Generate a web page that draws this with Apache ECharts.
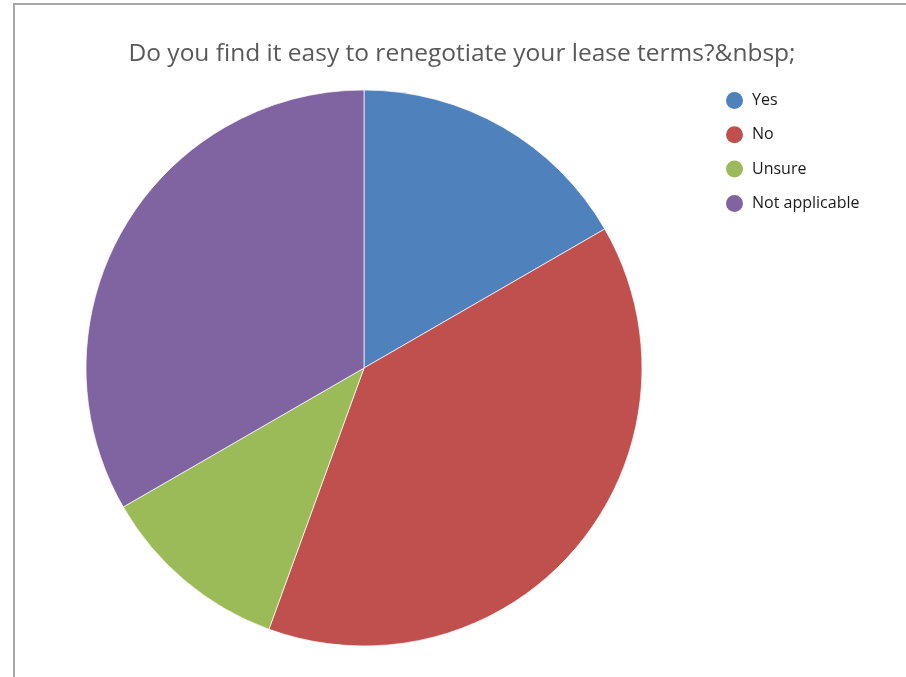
<!DOCTYPE html>
<html>
<head>
<meta charset="utf-8">
<script src="https://cdn.jsdelivr.net/npm/echarts@6/dist/echarts.min.js"></script>
<style>
  html, body { margin: 0; padding: 0; background: #fff; }
  .frame {
    position: absolute; left: 13px; top: 3px; right: 0; bottom: 0;
    border-left: 2px solid #a6a6a6; border-top: 2px solid #a6a6a6;
  }
  #chart { position: absolute; left: 0; top: 0; width: 906px; height: 677px; }
</style>
</head>
<body>
<div class="frame"></div>
<div id="chart"></div>
<script>
// 问卷结果（按份数）
const categories = ['Yes', 'No', 'Unsure', 'Not applicable'];
const counts = [3, 7, 2, 6];
const colors = ['#4f81bd', '#c0504d', '#9bbb59', '#8064a2'];

const chart = echarts.init(document.getElementById('chart'));

const option = {
  animation: false,
  color: colors,
  title: {
    text: 'Do you find it easy to renegotiate your lease terms?&nbsp;',
    left: 457,
    textAlign: 'center',
    top: 37,
    textStyle: { fontFamily: 'Open Sans', fontSize: 24.5, fontWeight: 'normal', color: '#595959' }
  },
  legend: {
    orient: 'vertical',
    left: 719,
    top: 85,
    icon: 'circle',
    itemWidth: 19,
    itemHeight: 19,
    itemGap: 13.3,
    textStyle: { fontFamily: 'Open Sans', fontSize: 16, color: '#1a1a1a', padding: [0, 0, 0, 3] },
    data: categories
  },
  series: [
    {
      type: 'pie',
      center: [364, 368],
      radius: 278,
      startAngle: 90,
      clockwise: true,
      label: { show: false },
      labelLine: { show: false },
      itemStyle: { borderColor: '#fff', borderWidth: 0.7 },
      data: categories.map((c, i) => ({ name: c, value: counts[i] }))
    }
  ]
};

chart.setOption(option);
</script>
</body>
</html>
